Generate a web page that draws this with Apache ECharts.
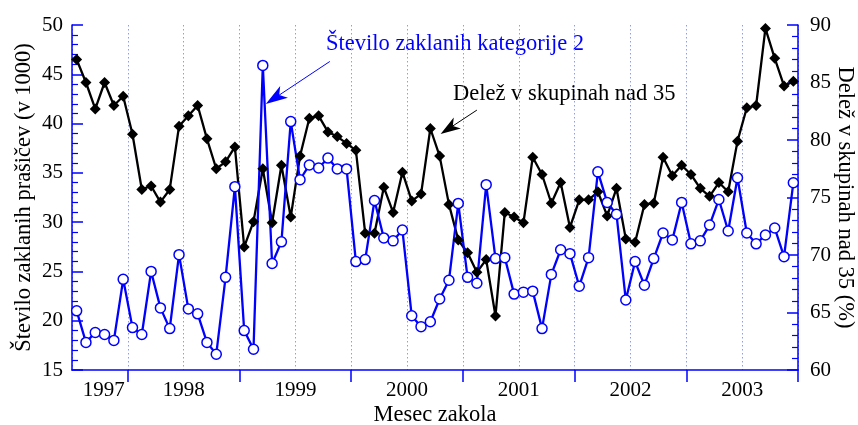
<!DOCTYPE html>
<html>
<head>
<meta charset="utf-8">
<script src="https://cdn.jsdelivr.net/npm/echarts@6.0.0/dist/echarts.min.js"></script>
<style>
    html, body { margin: 0; padding: 0; background: #fff; }
    #chart { width: 858px; height: 425px; }
</style>
</head>
<body>
<div id="chart"></div>
<script>
// mesečni podatki od julija 1997 do decembra 2003
const firstMonth = 6; // julij (0 = januar 1997)
const yearLabels = ["1997", "1998", "1999", "2000", "2001", "2002", "2003"];
const yearLabelPos = [9.4, 18, 30, 42, 54, 66, 78];
const yearTicks = [12, 24, 36, 48, 60, 72, 84];

const steviloKat2 = [
    21.0, 17.8, 18.8, 18.6, 18.0, 24.2, 19.3, 18.6, 25.0, 21.3, 19.2, 26.7, 21.2, 20.7, 17.8, 16.6, 24.4, 33.6, 19.0, 17.1,
    45.9, 25.8, 28.0, 40.2, 34.3, 35.8, 35.5, 36.5, 35.4, 35.4, 26.0, 26.2, 32.2, 28.4, 28.1, 29.2, 20.5, 19.4,
    19.9, 22.2, 24.1, 31.9, 24.4, 23.8, 33.8, 26.3, 26.4, 22.7, 22.9, 23.0, 19.2, 24.7, 27.2, 26.8, 23.5, 26.4, 35.1,
    32.0, 30.8, 22.1, 26.0, 23.6, 26.3, 28.9, 28.2, 32.0, 27.8, 28.1, 29.7, 32.3, 29.1, 34.5, 28.9, 27.8, 28.7, 29.4, 26.5, 34.0
];

const delezNad35 = [
    87.0, 85.0, 82.7, 85.0, 83.0, 83.8, 80.5, 75.7, 76.0, 74.6, 75.7, 81.2, 82.1, 83.0, 80.1, 77.5, 78.1, 79.4, 70.7, 72.9,
    77.5, 72.8, 77.8, 73.3, 78.6, 81.9, 82.1, 80.7, 80.3, 79.7, 79.1, 71.9, 71.9, 75.9, 73.7, 77.2, 74.7, 75.3,
    81.0, 78.6, 74.4, 71.3, 70.2, 68.5, 69.6, 64.7, 73.7, 73.3, 72.8, 78.5, 77.0, 74.5, 76.3, 72.4, 74.8, 74.8, 75.5,
    73.4, 75.8, 71.4, 71.1, 74.4, 74.5, 78.5, 76.9, 77.8, 77.0, 75.8, 75.1, 76.3, 75.5, 79.9, 82.8, 83.0, 89.7, 87.1, 84.7, 85.1
];

// puščici opomb (v koordinatah podatkov)
const arrowKat2 = [[33.7, 46.3], [27.8, 42.6]];
const arrowDelez = [[49.5, 82.6], [46.5, 81.0]];

const FONT = "Liberation Serif";
const BLUE = "#0000ff";
// vitka puščica, konica zgoraj
const ARROW = "path://M10,0 L20,30 L10,22 L0,30 Z";

// točka je na sredini meseca
const toPoints = values => values.map((v, i) => [firstMonth + i + 0.5, v]);

const arrowLine = (pts, size) => [
    { coord: pts[0], symbol: "none" },
    { coord: pts[1], symbol: ARROW, symbolSize: size }
];

const chart = echarts.init(document.getElementById("chart"));

chart.setOption({
    animation: false,
    backgroundColor: "#fff",
    textStyle: { fontFamily: FONT },
    grid: { left: 72, right: 60, top: 25, bottom: 55, outerBoundsMode: "none" },
    xAxis: [
        {
            type: "value",
            min: 6,
            max: 84,
            interval: 6,
            name: "Mesec zakola",
            nameLocation: "middle",
            nameGap: 34,
            nameMoveOverlap: false,
            nameTextStyle: { fontFamily: FONT, fontSize: 22.5, color: "#000" },
            axisLine: { show: true, lineStyle: { color: BLUE, width: 1.5 } },
            axisTick: { show: false },
            axisLabel: { show: false },
            splitLine: { show: true, lineStyle: { color: "#8f9cf0", width: 1, type: [1.5, 2.5] } }
        },
        {
            type: "value",
            min: 6,
            max: 84,
            position: "bottom",
            axisLine: { show: false },
            axisTick: {
                show: true,
                inside: false,
                length: 12,
                customValues: yearTicks,
                lineStyle: { color: BLUE, width: 1.5 }
            },
            axisLabel: {
                show: true,
                customValues: yearLabelPos,
                margin: 10,
                fontFamily: FONT,
                fontSize: 21,
                color: "#000",
                formatter: v => yearLabels[Math.floor(v / 12)]
            },
            splitLine: { show: false }
        }
    ],
    yAxis: [
        {
            type: "value",
            min: 15,
            max: 50,
            interval: 5,
            name: "Število zaklanih prašičev (v 1000)",
            nameLocation: "middle",
            nameGap: 36,
            nameMoveOverlap: false,
            nameTextStyle: { fontFamily: FONT, fontSize: 22.5, color: "#000" },
            axisLine: { show: true, lineStyle: { color: BLUE, width: 1.5 } },
            axisTick: { show: true, inside: true, length: 11, lineStyle: { color: BLUE, width: 1.5 } },
            minorTick: { show: true, splitNumber: 5, length: 6, lineStyle: { color: BLUE, width: 1.2 } },
            axisLabel: { fontFamily: FONT, fontSize: 21, color: "#000", margin: 9 },
            splitLine: { show: false }
        },
        {
            type: "value",
            min: 60,
            max: 90,
            interval: 5,
            position: "right",
            name: "Delež v skupinah nad 35 (%)",
            nameLocation: "middle",
            nameRotate: -90,
            nameGap: 35,
            nameMoveOverlap: false,
            nameTextStyle: { fontFamily: FONT, fontSize: 22.5, color: "#000" },
            axisLine: { show: true, lineStyle: { color: BLUE, width: 1.5 } },
            axisTick: { show: true, inside: true, length: 11, lineStyle: { color: BLUE, width: 1.5 } },
            minorTick: { show: true, splitNumber: 5, length: 6, lineStyle: { color: BLUE, width: 1.2 } },
            axisLabel: { fontFamily: FONT, fontSize: 21, color: "#000", margin: 12 },
            splitLine: { show: false }
        }
    ],
    series: [
        {
            name: "Delež v skupinah nad 35",
            type: "line",
            xAxisIndex: 0,
            yAxisIndex: 1,
            data: toPoints(delezNad35),
            symbol: "diamond",
            symbolSize: 11,
            itemStyle: { color: "#000" },
            lineStyle: { color: "#000", width: 2.3 },
            markLine: {
                silent: true,
                symbol: ["none", "arrow"],
                symbolSize: 16,
                label: { show: false },
                lineStyle: { color: "#000", width: 1, type: "solid" },
                data: [arrowLine(arrowDelez, [13, 20])]
            }
        },
        {
            name: "Število zaklanih kategorije 2",
            type: "line",
            xAxisIndex: 0,
            yAxisIndex: 0,
            data: toPoints(steviloKat2),
            symbol: "circle",
            symbolSize: 10,
            itemStyle: { color: "#fff", borderColor: BLUE, borderWidth: 1.5 },
            lineStyle: { color: BLUE, width: 2.3 },
            markLine: {
                silent: true,
                symbol: ["none", "arrow"],
                symbolSize: 16,
                label: { show: false },
                lineStyle: { color: BLUE, width: 1, type: "solid" },
                data: [arrowLine(arrowKat2, [14, 22])]
            }
        }
    ],
    graphic: [
        {
            type: "text",
            left: 326,
            top: 33,
            style: { text: "Število zaklanih kategorije 2", font: "22.5px Liberation Serif", fill: BLUE }
        },
        {
            type: "text",
            left: 453,
            top: 83,
            style: { text: "Delež v skupinah nad 35", font: "22.5px Liberation Serif", fill: "#000" }
        }
    ]
});
</script>
</body>
</html>
